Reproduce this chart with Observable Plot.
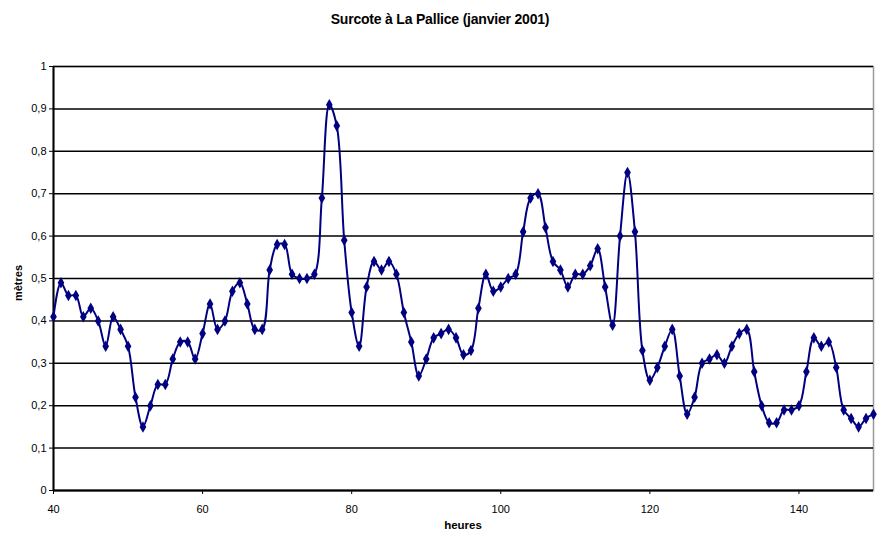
<!DOCTYPE html>
<html>
<head>
<meta charset="utf-8">
<script src="https://cdn.jsdelivr.net/npm/d3@7"></script>
<script src="https://cdn.jsdelivr.net/npm/@observablehq/plot@0.6"></script>
<style>
  body { margin: 0; background: white; }
  #wrap { position: relative; width: 880px; height: 534px; font-family: "Liberation Sans", Arial, sans-serif; }
  #title { position: absolute; top: 11px; left: 0; width: 880px; text-align: center; font-weight: bold; font-size: 14px; letter-spacing: -0.2px; }
  #ylab { position: absolute; left: 18px; top: 283px; transform: translate(-50%, -50%) rotate(-90deg); font-weight: bold; font-size: 11px; }
  #xlab { position: absolute; top: 519px; left: 463px; transform: translateX(-50%); font-weight: bold; font-size: 11.5px; }
</style>
</head>
<body>
<div id="wrap">
  <div id="chart"></div>
  <div id="title">Surcote à La Pallice (janvier 2001)</div>
  <div id="ylab">mètres</div>
  <div id="xlab">heures</div>
</div>
<script>
const startHour = 40;
const surcote = [
  0.41, 0.49, 0.46, 0.46, 0.41, 0.43, 0.40, 0.34, 0.41, 0.38,
  0.34, 0.22, 0.15, 0.20, 0.25, 0.25, 0.31, 0.35, 0.35, 0.31,
  0.37, 0.44, 0.38, 0.40, 0.47, 0.49, 0.44, 0.38, 0.38, 0.52,
  0.58, 0.58, 0.51, 0.50, 0.50, 0.51, 0.69, 0.91, 0.86, 0.59,
  0.42, 0.34, 0.48, 0.54, 0.52, 0.54, 0.51, 0.42, 0.35, 0.27,
  0.31, 0.36, 0.37, 0.38, 0.36, 0.32, 0.33, 0.43, 0.51, 0.47,
  0.48, 0.50, 0.51, 0.61, 0.69, 0.70, 0.62, 0.54, 0.52, 0.48,
  0.51, 0.51, 0.53, 0.57, 0.48, 0.39, 0.60, 0.75, 0.61, 0.33,
  0.26, 0.29, 0.34, 0.38, 0.27, 0.18, 0.22, 0.30, 0.31, 0.32,
  0.30, 0.34, 0.37, 0.38, 0.28, 0.20, 0.16, 0.16, 0.19, 0.19,
  0.20, 0.28, 0.36, 0.34, 0.35, 0.29, 0.19, 0.17, 0.15, 0.17,
  0.18
];
const xTicks = [40, 60, 80, 100, 120, 140];
const yTicks = [0, 0.1, 0.2, 0.3, 0.4, 0.5, 0.6, 0.7, 0.8, 0.9, 1];

const data = surcote.map((v, i) => ({heure: startHour + i, m: v}));
const fmt = d => String(d).replace(".", ",");

const chart = Plot.plot({
  width: 880,
  height: 534,
  marginLeft: 53,
  marginRight: 7,
  marginTop: 66,
  marginBottom: 44,
  style: {fontFamily: "'Liberation Sans', Arial, sans-serif", fontSize: "11px", color: "black", background: "white"},
  x: {domain: [40, 150], label: null},
  y: {domain: [0, 1], label: null},
  marks: [
    Plot.frame({stroke: "#9a9a9a", strokeWidth: 1.5}),
    Plot.gridY(yTicks, {stroke: "black", strokeOpacity: 1, strokeWidth: 1.5}),
    Plot.ruleX([40], {stroke: "black", strokeWidth: 2}),
    Plot.ruleY([0], {stroke: "black", strokeWidth: 2}),
    Plot.axisY(yTicks, {tickFormat: fmt, tickSize: 4, tickPadding: 3, label: null}),
    Plot.axisX(xTicks, {tickSize: 4, tickPadding: 11, label: null}),
    Plot.line(data, {x: "heure", y: "m", stroke: "#000080", strokeWidth: 2, curve: "catmull-rom"}),
    Plot.dot(data, {x: "heure", y: "m", symbol: "diamond", fill: "#000080", r: 3.5})
  ]
});
document.getElementById("chart").appendChild(chart);
</script>
</body>
</html>
